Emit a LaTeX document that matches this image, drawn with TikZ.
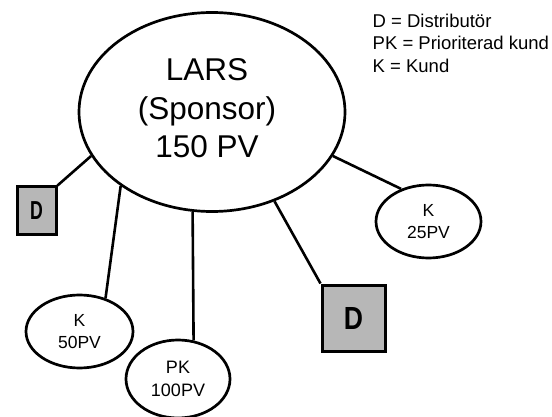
\documentclass[tikz,border=0pt]{standalone}
\usepackage{fontspec}
\setmainfont{Liberation Sans}
\usetikzlibrary{shapes.geometric}
\definecolor{dgray}{RGB}{183,183,183}
\begin{document}
\begin{tikzpicture}[x=1pt,y=-1pt,
  ell/.style={ellipse, draw=black, line width=2.7pt, fill=white, inner sep=0pt, align=center, font=\fontsize{17.5}{22.5}\selectfont},
  dbox/.style={rectangle, draw=black, line width=3pt, fill=dgray, inner sep=0pt},
  conn/.style={line width=2.6pt}]
\useasboundingbox (0,0) rectangle (552,417);
\fill[white] (0,0) rectangle (552,417);
% nodes
\node[ell, minimum width=266, minimum height=199] (lars) at (212,112) {};
\node[font=\fontsize{31.5}{38.3}\selectfont, align=center, inner sep=0pt] (larstext) at (207,108.3) {LARS\\(Sponsor)\\150 PV};
\node[ell, minimum width=107, minimum height=73] (k50) at (79.5,331.5) {K\\50PV};
\node[ell, font=\fontsize{18}{23}\selectfont, minimum width=104, minimum height=78] (pk) at (178,379) {PK\\100PV};
\node[ell, minimum width=105, minimum height=73] (k25) at (428.5,221.5) {K\\25PV};
\node[dbox, minimum width=39, minimum height=47, font=\bfseries\fontsize{26}{26}\selectfont] (d1) at (36.5,210.5) {\scalebox{0.68}[1]{D}};
\node[dbox, minimum width=63, minimum height=66, font=\bfseries\fontsize{32}{32}\selectfont] (d2) at (353.5,318) {\scalebox{0.83}[1]{D}};
\node[anchor=north west, inner sep=0pt, align=left, font=\fontsize{18.5}{22.2}\selectfont] (legend) at (372.5,14) {D = Distributör\\PK = Prioriterad kund\\K = Kund};
% connectors
\draw[conn] (lars.200) -- (d1.north east);
\draw[conn] (lars.219) -- (k50.52);
\draw[conn] (lars.259) -- (pk.68);
\draw[conn] (lars.305) -- (d2.north west);
\draw[conn] (lars.340) -- (k25.130);
\end{tikzpicture}
\end{document}
